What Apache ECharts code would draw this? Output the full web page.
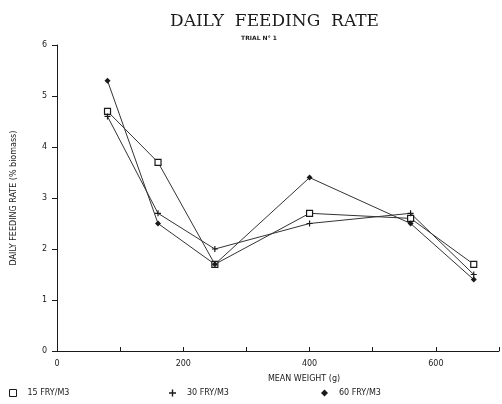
<!DOCTYPE html>
<html>
<head>
<meta charset="utf-8">
<script src="https://cdn.jsdelivr.net/npm/echarts@6/dist/echarts.min.js"></script>
<style>
  html, body { margin: 0; padding: 0; background: #fff; }
  #chart { width: 502px; height: 404px; }
</style>
</head>
<body>
<div id="chart"></div>
<script>
// mean weight (g) at each sampling
const weights = [80, 160, 250, 400, 560, 660]
// daily feeding rate (% biomass)
const rate15 = [4.7, 3.7, 1.7, 2.7, 2.6, 1.7]
const rate30 = [4.6, 2.7, 2.0, 2.5, 2.7, 1.5]
const rate60 = [5.3, 2.5, 1.7, 3.4, 2.5, 1.4]
const seriesNames = ['15 FRY/M3', '30 FRY/M3', '60 FRY/M3']

const plusPath = 'path://M4,0L6,0L6,4L10,4L10,6L6,6L6,10L4,10L4,6L0,6L0,4L4,4Z'
const ink = '#1a1a1a'
const font = 'DejaVu Sans'

const chart = echarts.init(document.getElementById('chart'))

const pts = arr => weights.map((w, i) => [w, arr[i]])

const mkSeries = (name, data, symbol, size, filled) => ({
  name: name,
  type: 'line',
  data: pts(data),
  symbol: symbol,
  symbolSize: size,
  lineStyle: { color: '#333', width: 1 },
  itemStyle: { color: filled ? ink : '#fff', borderColor: ink, borderWidth: filled ? 0 : 1.2 },
  emphasis: { disabled: true },
  z: 3
})

const legendBase = {
  bottom: 2,
  itemWidth: 7,
  itemHeight: 7,
  itemGap: 0,
  textStyle: { fontFamily: font, fontSize: 8, color: ink, padding: [0, 0, 0, 6] },
  selectedMode: false
}

chart.setOption({
  animation: false,
  title: [
    {
      text: 'DAILY  FEEDING  RATE',
      left: 165,
      top: 8,
      textStyle: { fontFamily: 'DejaVu Serif', fontSize: 17, fontWeight: 'normal', color: ink }
    },
    {
      text: 'TRIAL N° 1',
      left: 254,
      top: 30,
      textAlign: 'center',
      textStyle: { fontFamily: font, fontSize: 6, fontWeight: 'bold', color: ink }
    }
  ],
  legend: [
    Object.assign({}, legendBase, { left: 4, data: [{ name: seriesNames[0], icon: 'rect', itemStyle: { color: '#fff', borderColor: ink, borderWidth: 1 } }] }),
    Object.assign({}, legendBase, { left: 164, data: [{ name: seriesNames[1], icon: plusPath }] }),
    Object.assign({}, legendBase, { left: 316, data: [{ name: seriesNames[2], icon: 'diamond' }] })
  ],
  grid: { left: 57, top: 45, width: 448, height: 306 },
  xAxis: {
    type: 'value',
    min: 0,
    max: 700,
    interval: 100,
    name: 'MEAN WEIGHT (g)',
    nameLocation: 'middle',
    nameGap: 24,
    nameTextStyle: { fontFamily: font, fontSize: 8, color: ink, padding: [0, 0, 0, 52] },
    axisLine: { lineStyle: { color: ink, width: 1 } },
    axisTick: { inside: true, length: 4, lineStyle: { color: ink } },
    axisLabel: {
      fontFamily: font, fontSize: 8, color: ink, margin: 9,
      formatter: v => (v % 200 === 0 ? String(v) : '')
    },
    splitLine: { show: false }
  },
  yAxis: {
    type: 'value',
    min: 0,
    max: 6,
    interval: 1,
    name: 'DAILY FEEDING RATE (% biomass)',
    nameLocation: 'middle',
    nameGap: 39,
    nameTextStyle: { fontFamily: font, fontSize: 8, color: ink },
    axisLine: { lineStyle: { color: ink, width: 1 } },
    axisTick: { length: 5, lineStyle: { color: ink } },
    axisLabel: { fontFamily: font, fontSize: 8, color: ink, margin: 10 },
    splitLine: { show: false }
  },
  series: [
    mkSeries(seriesNames[0], rate15, 'rect', 6, false),
    mkSeries(seriesNames[1], rate30, plusPath, 6, true),
    mkSeries(seriesNames[2], rate60, 'diamond', 6, true)
  ]
})
</script>
</body>
</html>
